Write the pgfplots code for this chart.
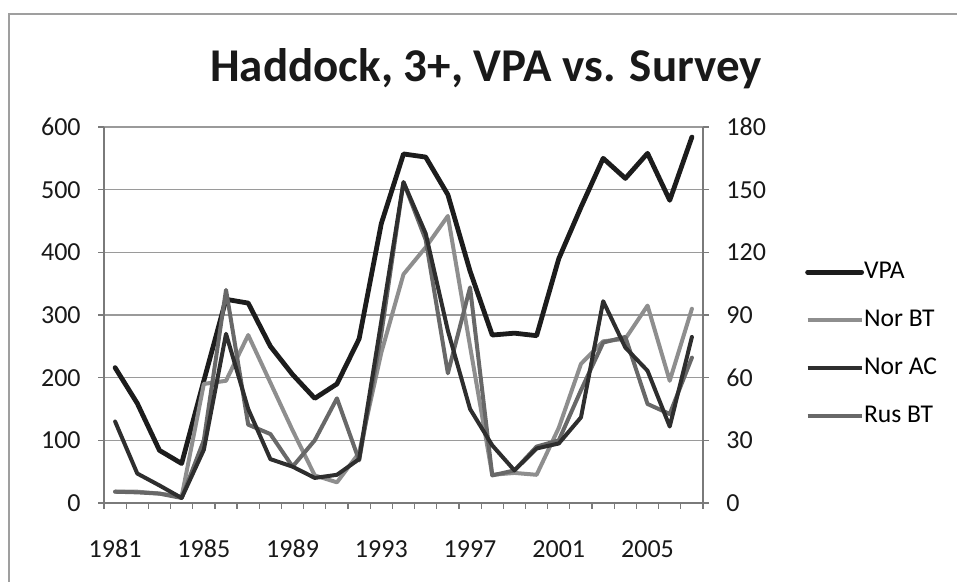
\documentclass[border=0pt]{standalone}
\usepackage{fontspec}
\setmainfont{Carlito}
\usepackage{pgfplots}
\pgfplotsset{compat=1.18}
\usepackage{pgfplotstable}

\definecolor{cVPA}{HTML}{1C1C1C}
\definecolor{cNorBT}{HTML}{8E8E8E}
\definecolor{cNorAC}{HTML}{2E2E2E}
\definecolor{cRusBT}{HTML}{686868}
\definecolor{gridc}{HTML}{9A9A9A}
\definecolor{axc}{HTML}{7A7A7A}

\pgfplotstableread{
year vpa
1981 216
1982 159
1983 84
1984 63
1985 195
1986 325
1987 319
1988 250
1989 205
1990 167
1991 190
1992 262
1993 446
1994 557
1995 552
1996 492
1997 370
1998 268
1999 271
2000 267
2001 390
2002 472
2003 550
2004 518
2005 558
2006 483
2007 584
}\vpa

\pgfplotstableread{
year norbt norac rusbt
1981 5.4 39.0 5.4
1982 5.4 14.1 5.1
1983 4.5 8.4 4.5
1984 3.0 2.4 2.4
1985 57.0 25.5 30.0
1986 58.5 81.0 102.0
1987 80.4 45.0 37.5
1988 57.6 21.0 33.0
1989 34.8 17.4 17.4
1990 13.2 12.0 30.0
1991 9.9 13.5 50.1
1992 24.0 21.0 20.4
1993 72.0 87.0 81.0
1994 109.5 153.6 153.6
1995 122.4 129.0 126.0
1996 137.4 82.5 62.1
1997 75.0 45.0 103.2
1998 13.5 27.6 13.2
1999 14.4 15.6 15.6
2000 13.5 26.1 27.0
2001 36.0 28.5 30.0
2002 66.6 41.0 54.0
2003 77.4 96.6 76.8
2004 78.6 74.4 79.5
2005 94.5 63.3 47.4
2006 58.5 36.6 42.6
2007 93.0 79.5 69.6
}\surv

\pgfplotsset{
  common/.style={
    scale only axis, width=299.5pt, height=188pt,
    at={(52pt,39.5pt)}, anchor=south west,
    xmin=1980.5, xmax=2007.5,
    tick align=outside,
    major tick length=3pt,
    axis line style={axc, line width=0.7pt},
    tick style={axc, line width=0.6pt},
    ticklabel style={font=\fontsize{13}{15}\selectfont, text=black!90},
    /pgf/number format/assume math mode=true,
    /pgf/number format/1000 sep={},
    clip=false,
  },
  srv/.style={line width=2pt, line join=round, line cap=round},
}

\begin{document}
\begin{tikzpicture}
\path[use as bounding box] (0,0) rectangle (478.5pt,291pt);
\draw[gray!75, line width=0.8pt] (4.5pt,0pt) -- (4.5pt,284pt) -- (478.5pt,284pt);
\node[font=\fontsize{23.5}{28}\selectfont\bfseries, text=black!90] at (243pt,256.5pt) {Haddock, 3+, VPA vs. Survey};

\begin{axis}[common,
  ymin=0, ymax=600, ytick={0,100,...,600},
  axis y line*=left, axis x line*=bottom,
  ymajorgrids, grid style={gridc, line width=0.6pt},
  xtick={1980.5,1981.5,...,2007.6}, xticklabels={},
  extra x ticks={1981,1985,1989,1993,1997,2001,2005},
  extra x tick labels={1981,1985,1989,1993,1997,2001,2005},
  extra x tick style={tick style={draw=none}, xticklabel style={anchor=center, yshift=-20pt}},
  yticklabel style={anchor=east, inner sep=0pt, xshift=-8.5pt},
  legend style={at={(1.17,0.647)}, anchor=north west, draw=none, fill=none,
    nodes={inner sep=0pt, text height=9pt, text depth=3pt, font=\fontsize{12.8}{14}\selectfont},
    row sep=12pt, inner sep=0pt},
  legend cell align=left,
  legend image code/.code={\draw[#1] (0pt,0pt) -- (27pt,0pt);},
]
\addplot[cVPA, line width=2.4pt, line join=round, line cap=round] table[x=year, y=vpa] {\vpa};
\addlegendentry{VPA}
\addlegendimage{cNorBT, line width=2pt}
\addlegendentry{Nor BT}
\addlegendimage{cNorAC, line width=2pt}
\addlegendentry{Nor AC}
\addlegendimage{cRusBT, line width=2pt}
\addlegendentry{Rus BT}
\end{axis}

\begin{axis}[common,
  ymin=0, ymax=180, ytick={0,30,...,180},
  axis y line*=right, axis x line=none,
  yticklabel style={anchor=west, inner sep=0pt, xshift=8.5pt},
]
\addplot[cNorBT, srv] table[x=year, y=norbt] {\surv};
\addplot[cRusBT, srv] table[x=year, y=rusbt] {\surv};
\addplot[cNorAC, srv] table[x=year, y=norac] {\surv};
\end{axis}
\end{tikzpicture}
\end{document}
